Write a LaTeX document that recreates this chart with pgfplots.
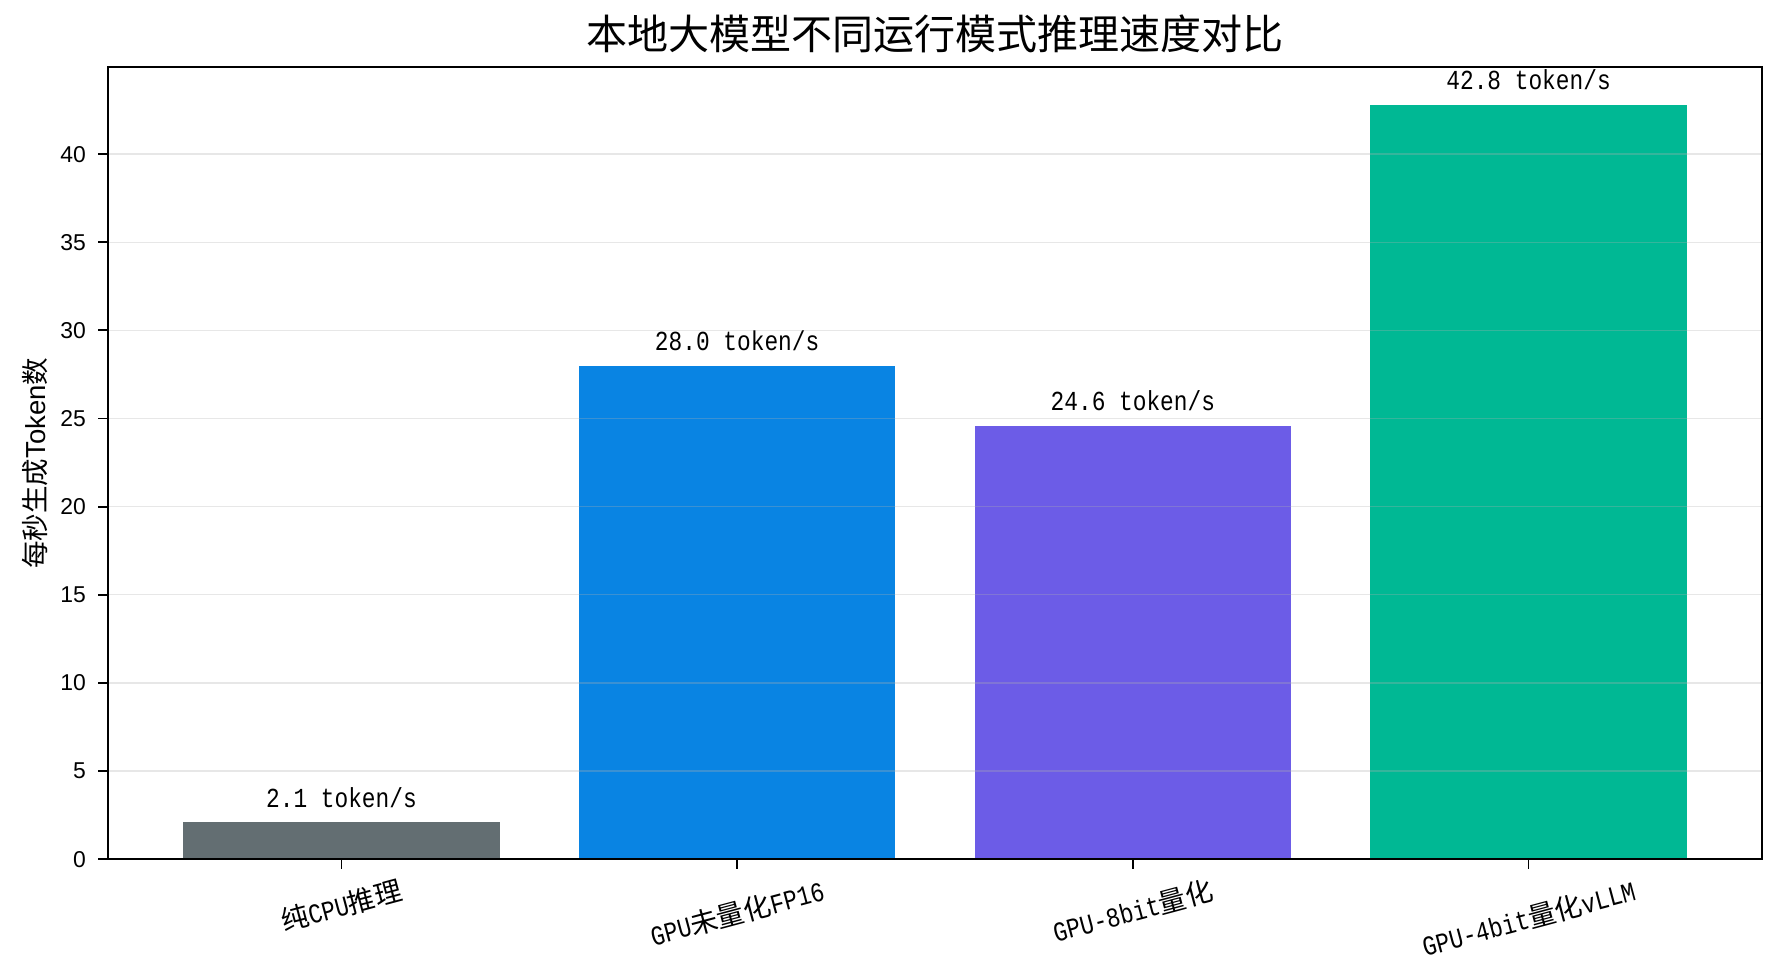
\documentclass[border=0pt]{standalone}
\usepackage{fontspec}
\setmainfont{Noto Sans CJK SC}
\newfontfamily\mono[FakeStretch=0.83]{Liberation Mono}
\newfontfamily\arial{Liberation Sans}
\usepackage{graphicx}
\usepackage{pgfplots}
\pgfplotsset{compat=1.18}
\definecolor{cgray}{HTML}{636E72}
\definecolor{cblue}{HTML}{0984E3}
\definecolor{cpurple}{HTML}{6C5CE7}
\definecolor{cgreen}{HTML}{00B894}
\definecolor{gridc}{HTML}{B0B0B0}
\newcommand{\lab}{\fontsize{13.2}{14}\selectfont}
\begin{document}
\begin{tikzpicture}
\begin{axis}[
  name=ax,
  scale only axis,
  width=793.9pt, height=380.2pt,
  xmin=-0.59, xmax=3.59, ymin=0, ymax=44.94,
  axis line style={line width=0.9pt},
  tick style={line width=0.9pt, black},
  tick align=outside,
  xtick pos=bottom, ytick pos=left,
  major tick length=4.6pt,
  xtick={0,1,2,3},
  xticklabels={
    \rotatebox{15}{纯{\mono CPU}推理},
    \rotatebox{15}{{\mono GPU}未量化{\mono FP16}},
    \rotatebox{15}{{\mono GPU-8bit}量化},
    \rotatebox{15}{{\mono GPU-4bit}量化{\mono vLLM}}},
  xticklabel style={font=\lab, anchor=north, inner sep=0pt, yshift=-4pt},
  ytick={0,5,10,15,20,25,30,35,40},
  yticklabel style={font=\arial\fontsize{11}{11}\selectfont, inner sep=0pt, xshift=-5.8pt},
  /pgf/number format/assume math mode=true,
  ymajorgrids=true,
  grid style={gridc, opacity=0.3, line width=0.65pt},
  axis on top=true,
  ybar, bar width=0.8, bar shift=0pt,
]
\addplot[fill=cgray, draw=none] coordinates {(0,2.1)};
\addplot[fill=cblue, draw=none] coordinates {(1,28.0)};
\addplot[fill=cpurple, draw=none] coordinates {(2,24.6)};
\addplot[fill=cgreen, draw=none] coordinates {(3,42.8)};
\node[font=\lab\mono, anchor=base, yshift=7.2pt, inner sep=0pt] at (axis cs:0,2.1) {2.1 token/s};
\node[font=\lab\mono, anchor=base, yshift=7.2pt, inner sep=0pt] at (axis cs:1,28.0) {28.0 token/s};
\node[font=\lab\mono, anchor=base, yshift=7.2pt, inner sep=0pt] at (axis cs:2,24.6) {24.6 token/s};
\node[font=\lab\mono, anchor=base, yshift=7.2pt, inner sep=0pt] at (axis cs:3,42.8) {42.8 token/s};
\end{axis}
\node[font=\fontsize{19.7}{20}\selectfont, anchor=base, inner sep=0pt] at ([yshift=8.5pt]ax.north) {本地大模型不同运行模式推理速度对比};
\node[font=\lab, rotate=90, inner sep=0pt] at ([xshift=-35pt]ax.west) {每秒生成{\arial Token}数};
\pgfresetboundingbox
\path[use as bounding box] ([xshift=-51.84pt,yshift=-57.6pt]ax.south west) rectangle ([xshift=8.64pt,yshift=32.2pt]ax.north east);
\end{tikzpicture}
\end{document}
